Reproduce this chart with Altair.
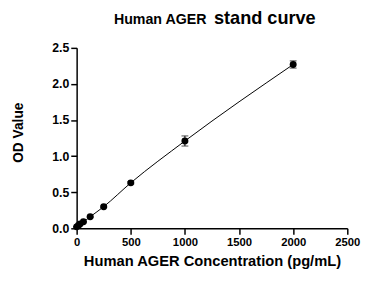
import altair as alt
import pandas as pd

conc = [0, 15.6, 31.25, 62.5, 125, 250, 500, 1000, 2000]
od = [0.02, 0.04, 0.06, 0.09, 0.16, 0.30, 0.63, 1.21, 2.27]
err = [0.005, 0.005, 0.005, 0.006, 0.008, 0.01, 0.015, 0.07, 0.05]

x_ticks = [0, 500, 1000, 1500, 2000, 2500]
y_ticks = [0.0, 0.5, 1.0, 1.5, 2.0, 2.5]

df = pd.DataFrame({"conc": conc, "od": od, "err": err})
df["lo"] = df["od"] - df["err"]
df["hi"] = df["od"] + df["err"]

FONT = "Liberation Sans"

xscale = alt.Scale(domain=[0, 2500], nice=False)
yscale = alt.Scale(domain=[0, 2.5], nice=False)

xaxis = alt.Axis(values=x_ticks, format="d", title="Human AGER Concentration (pg/mL)",
                 grid=False, domainColor="black", tickColor="black",
                 domainWidth=1.5, tickWidth=1.5, tickSize=6,
                 labelColor="black", labelFont=FONT, labelFontWeight="bold",
                 labelFontSize=11.5, titleFont=FONT, titleFontWeight="bold",
                 titleFontSize=15, titleColor="black", titlePadding=5,
                 labelPadding=3, labelFlush=False)
yaxis = alt.Axis(values=y_ticks, format=".1f", title="OD Value",
                 grid=False, domainColor="black", tickColor="black",
                 domainWidth=1.5, tickWidth=1.5, tickSize=6,
                 labelColor="black", labelFont=FONT, labelFontWeight="bold",
                 labelFontSize=12.5, titleFont=FONT, titleFontWeight="bold",
                 titleFontSize=14, titleColor="black", titlePadding=27,
                 titleY=86, labelPadding=2, labelFlush=False)

base = alt.Chart(df)
line = base.mark_line(color="black", strokeWidth=1, interpolate="monotone").encode(
    x=alt.X("conc:Q", scale=xscale, axis=xaxis),
    y=alt.Y("od:Q", scale=yscale, axis=yaxis))
bars = base.mark_errorbar(color="black", ticks=alt.TickConfig(size=7, color="black"), thickness=1).encode(
    x=alt.X("conc:Q", scale=xscale, axis=xaxis),
    y=alt.Y("lo:Q", scale=yscale, axis=yaxis), y2="hi:Q")
pts = base.mark_circle(color="black", opacity=1, size=50).encode(
    x=alt.X("conc:Q", scale=xscale, axis=xaxis),
    y=alt.Y("od:Q", scale=yscale, axis=yaxis))

t1 = alt.Chart(pd.DataFrame({"t": ["Human AGER"]})).mark_text(
    font=FONT, fontWeight="bold", fontSize=14.5, align="left", baseline="alphabetic", color="black"
).encode(text="t:N", x=alt.value(38), y=alt.value(-24))
t2 = alt.Chart(pd.DataFrame({"t": ["stand curve"]})).mark_text(
    font=FONT, fontWeight="bold", fontSize=18.5, align="left", baseline="alphabetic", color="black"
).encode(text="t:N", x=alt.value(140), y=alt.value(-24))

chart = alt.layer(line, bars, pts, t1, t2).properties(
    width=276, height=184,
    autosize=alt.AutoSizeParams(type="none"),
    padding={"left": 70, "top": 38, "right": 16, "bottom": 48},
).configure(background="white").configure_view(stroke=None)

chart.save("out.html", embed_options={"renderer": "svg", "actions": False})
